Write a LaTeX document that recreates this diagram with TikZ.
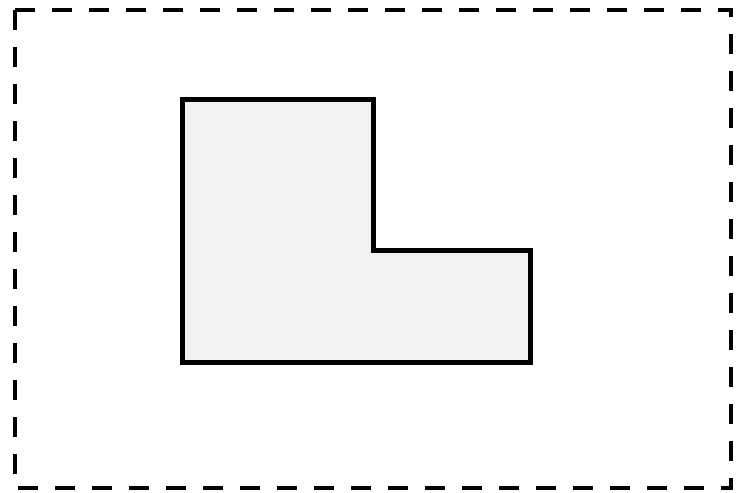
\documentclass[tikz,border=0pt]{standalone}
\usetikzlibrary{backgrounds}
\tikzset{
  frame/.style={draw=black, line width=4pt, dash pattern=on 20pt off 17pt},
  lshape/.style={draw=black, fill=black!5, line width=5pt, line join=miter}
}
\begin{document}
\begin{tikzpicture}[x=1pt,y=-1pt]
\useasboundingbox (0,0) rectangle (738,492);
\draw[frame] (15,10) rectangle (731,488);
\coordinate (p1) at (182,100);
\coordinate (p2) at (373,100);
\coordinate (p3) at (373,250);
\coordinate (p4) at (530,250);
\coordinate (p5) at (530,362);
\coordinate (p6) at (182,362);
\draw[lshape] (p1) -- (p2) -- (p3) -- (p4) -- (p5) -- (p6) -- cycle;
\end{tikzpicture}
\end{document}
